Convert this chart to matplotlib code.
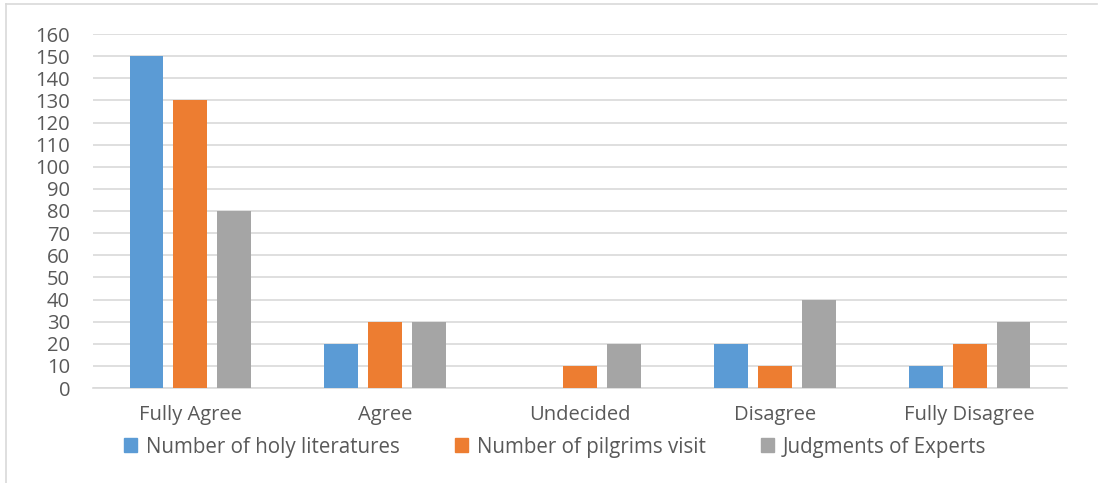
import matplotlib.pyplot as plt
import numpy as np
from matplotlib.lines import Line2D
from matplotlib.patches import Patch

categories = ["Fully Agree", "Agree", "Undecided", "Disagree", "Fully Disagree"]
series_names = ["Number of holy literatures", "Number of pilgrims visit", "Judgments of Experts"]
holy = [150, 20, 0, 20, 10]
pilgrims = [130, 30, 10, 10, 20]
experts = [80, 30, 20, 40, 30]
colors = ["#5b9bd5", "#ed7d31", "#a5a5a5"]


def main():
    plt.rcParams["font.family"] = ["Open Sans", "DejaVu Sans"]
    text_color = "#595959"

    fig = plt.figure(figsize=(10.98, 4.83), dpi=100)
    ax = fig.add_axes([93 / 1098, 1 - 388 / 483, 974 / 1098, 354 / 483])

    x = np.arange(len(categories))
    width = 0.174
    step = 0.2256
    for i, vals in enumerate([holy, pilgrims, experts]):
        ax.bar(x + (i - 1) * step, vals, width, color=colors[i], zorder=3)

    ax.set_xlim(-0.5, len(categories) - 0.5)
    ax.set_ylim(0, 160)
    ax.set_yticks(np.arange(0, 161, 10))
    ax.set_xticks(x)
    ax.set_xticklabels(categories)
    ax.yaxis.grid(True, color="#d9d9d9", linewidth=1.2, zorder=0)
    for side in ["top", "right", "left"]:
        ax.spines[side].set_visible(False)
    ax.spines["bottom"].set_color("#d9d9d9")
    ax.spines["bottom"].set_linewidth(1.2)
    ax.tick_params(axis="both", length=0, labelsize=14.5, colors=text_color)
    ax.tick_params(axis="y", pad=16.5)
    ax.tick_params(axis="x", pad=12)

    handles = [Patch(color=c) for c in colors]
    fig.legend(
        handles,
        series_names,
        loc="center",
        bbox_to_anchor=(555 / 1098, 1 - 447 / 483),
        ncol=3,
        frameon=False,
        fontsize=14.8,
        labelcolor=text_color,
        handlelength=0.65,
        handleheight=0.65,
        handletextpad=0.4,
        columnspacing=2.7,
        borderpad=0,
    )

    # outer frame (top and left edges)
    fig.add_artist(Line2D([6 / 1098, 6 / 1098], [0, 1 - 4 / 483], transform=fig.transFigure, color="#d9d9d9", linewidth=1.2))
    fig.add_artist(Line2D([6 / 1098, 1097 / 1098], [1 - 4 / 483, 1 - 4 / 483], transform=fig.transFigure, color="#d9d9d9", linewidth=1.2))

    fig.savefig("out.png", dpi=100)


if __name__ == "__main__":
    main()
